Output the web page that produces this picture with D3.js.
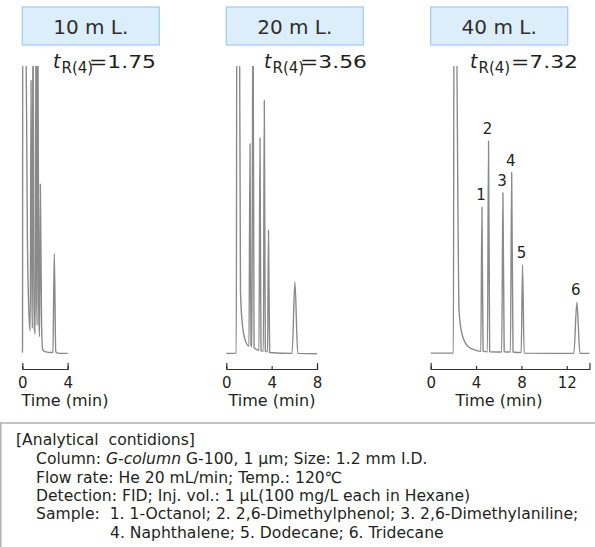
<!DOCTYPE html>
<html>
<head>
<meta charset="utf-8">
<script src="https://cdn.jsdelivr.net/npm/d3@7"></script>
<style>
  body { margin: 0; background: #fff; }
  svg { display: block; font-family: "DejaVu Sans", Verdana, sans-serif; }
</style>
</head>
<body>
<svg id="chart" width="595" height="547"></svg>
<script>
// column lengths / headers
var panelTitles = ["10 m L.", "20 m L.", "40 m L."];
var retentionValues = ["1.75", "3.56", "7.32"];
var axisMax = [4, 8, 14];
var tickValues = [[0, 4], [0, 4, 8], [0, 4, 8, 12]];

// traces, [time (min), signal %] (100 = top of frame)
var trace10 = [[0, 0.5], [0.02, 2], [0.04, 130], [0.28, 130], [0.45, 40], [0.62, 11], [0.7, 8],
  [0.77, 95], [0.85, 20], [0.89, 9], [0.94, 130], [1.02, 25], [1.08, 8], [1.14, 7],
  [1.21, 130], [1.27, 20], [1.31, 10], [1.37, 130], [1.45, 15], [1.52, 6], [1.59, 59],
  [1.7, 10], [1.8, 1.5], [2.0, 0.8], [2.55, 0.5], [2.7, 0.6], [2.82, 35], [2.95, 0.8],
  [3.1, 0.3], [4, 0.2]];
var trace20 = [[0, 0.2], [0.88, 0.3], [0.93, 130], [1.15, 130], [1.25, 22], [1.4, 11],
  [1.65, 5], [2.0, 2.8], [2.09, 73], [2.18, 3], [2.26, 2.5], [2.35, 130], [2.45, 2.2],
  [2.88, 1.3], [2.97, 75], [3.06, 1.2], [3.27, 1], [3.35, 88], [3.44, 1], [3.64, 0.8],
  [3.72, 43], [3.82, 0.5], [5.8, 0.2], [6.05, 25], [6.3, 0.2], [8, 0.1]];
var trace40 = [[0, 0.3], [2.0, 0.3], [2.06, 130], [2.22, 130], [2.5, 15], [2.74, 7.3],
  [3.18, 3.1], [3.76, 1.6], [4.42, 0.9], [4.52, 51], [4.62, 1.0], [5.0, 0.8], [5.1, 74],
  [5.2, 0.8], [6.26, 0.7], [6.37, 56], [6.48, 0.8], [7.03, 0.7], [7.14, 63], [7.26, 0.7],
  [7.98, 0.5], [8.1, 31], [8.24, 0.3], [12.62, 0.2], [12.89, 18], [13.16, 0.2], [14, 0.2]];
var traces = [trace10, trace20, trace40];

// numbered peaks on the 40 m run
var peakNumbers = ["1", "2", "3", "4", "5", "6"];
var peakTimes40 = [4.52, 5.1, 6.37, 7.14, 8.1, 12.89];
var peakHeights40 = [51, 74, 56, 63, 31, 18];

// conditions text
var conditionLines = [
  { x: 16, text: "[Analytical  contidions]" },
  { x: 36, parts: [["Column: ", false], ["G-column", true], [" G-100, 1 μm; Size: 1.2 mm I.D.", false]] },
  { x: 36, text: "Flow rate: He 20 mL/min; Temp.: 120℃" },
  { x: 36, text: "Detection: FID; Inj. vol.: 1 μL(100 mg/L each in Hexane)" },
  { x: 36, text: "Sample:  1. 1-Octanol; 2. 2,6-Dimethylphenol; 3. 2,6-Dimethylaniline;" },
  { x: 110, text: "4. Naphthalene; 5. Dodecane; 6. Tridecane" }
];

// layout
var panelLeft = [22.3, 226.3, 430.7];
var pxPerMin = 11.34;
var tLabelX = [53, 264, 470];
var eqLabelX = [89, 300, 511];
var timeLabelX = [65, 272, 499];
var plotTop = 66, baseY = 354, axisY = 369;
var textColor = "#231f20";

var svg = d3.select("#chart");

var y = d3.scaleLinear().domain([0, 100]).range([baseY, plotTop]);

panelTitles.forEach(function(title, i) {
  var left = panelLeft[i];
  var x = d3.scaleLinear()
    .domain([0, axisMax[i]])
    .range([left, left + axisMax[i] * pxPerMin]);

  var g = svg.append("g");

  // header box
  g.append("rect")
    .attr("x", left)
    .attr("y", 7)
    .attr("width", 137)
    .attr("height", 38)
    .attr("fill", "#ddeefb")
    .attr("stroke", "#a7cdee")
    .attr("stroke-width", 1.3);
  g.append("text")
    .attr("x", left + 68.5)
    .attr("y", 34)
    .attr("text-anchor", "middle")
    .attr("font-size", 20)
    .attr("fill", "#2e2e2e")
    .text(title);

  // t R(4) label
  var tl = g.append("text")
    .attr("x", tLabelX[i])
    .attr("y", 68)
    .attr("fill", textColor);
  tl.append("tspan")
    .attr("font-size", 19)
    .attr("font-style", "italic")
    .text("t");
  tl.append("tspan")
    .attr("font-size", 15)
    .attr("dy", 5)
    .attr("dx", 1)
    .text("R(4)");
  g.append("text")
    .attr("x", eqLabelX[i])
    .attr("y", 68)
    .attr("font-size", 18)
    .attr("fill", textColor)
    .attr("textLength", 67)
    .attr("lengthAdjust", "spacingAndGlyphs")
    .text("=" + retentionValues[i]);

  // trace
  svg.append("clipPath")
    .attr("id", "clip" + i)
    .append("rect")
    .attr("x", left - 2)
    .attr("y", plotTop)
    .attr("width", axisMax[i] * pxPerMin + 4)
    .attr("height", baseY - plotTop + 10);

  var line = d3.line()
    .x(function(d) { return x(d[0]); })
    .y(function(d) { return y(d[1]); })
    .curve(d3.curveMonotoneX);

  g.append("path")
    .datum(traces[i])
    .attr("clip-path", "url(#clip" + i + ")")
    .attr("fill", "none")
    .attr("stroke", "#8a8a8a")
    .attr("stroke-width", 1.4)
    .attr("stroke-linejoin", "round")
    .attr("d", line);

  // axis
  var axis = d3.axisBottom(x)
    .tickValues(tickValues[i])
    .tickSizeInner(-3)
    .tickSizeOuter(-6)
    .tickPadding(8)
    .tickFormat(d3.format("d"));
  var ax = g.append("g")
    .attr("transform", "translate(0," + axisY + ")")
    .call(axis);
  ax.select(".domain").attr("stroke", "#333").attr("stroke-width", 1.2);
  ax.selectAll(".tick line").attr("stroke", "#333").attr("stroke-width", 1.2);
  ax.selectAll(".tick text")
    .style("font-size", "15px")
    .style("font-family", "DejaVu Sans, sans-serif")
    .attr("fill", textColor);

  g.append("text")
    .attr("x", timeLabelX[i])
    .attr("y", 406)
    .attr("text-anchor", "middle")
    .attr("font-size", 16)
    .attr("fill", textColor)
    .text("Time (min)");

  // peak numbers only on the 40 m run
  if (i == 2) {
    g.selectAll(".peakNum")
      .data(peakNumbers)
      .enter().append("text")
      .attr("class", "peakNum")
      .attr("x", function(d, k) { return x(peakTimes40[k]) - 1; })
      .attr("y", function(d, k) { return y(peakHeights40[k]) - 7; })
      .attr("text-anchor", "middle")
      .attr("font-size", 15)
      .attr("fill", textColor)
      .text(function(d) { return d; });
  }
});

// conditions box
svg.append("rect")
  .attr("x", 0.8)
  .attr("y", 423)
  .attr("width", 600)
  .attr("height", 140)
  .attr("fill", "none")
  .attr("stroke", "#b4b4b4")
  .attr("stroke-width", 1.6);

var rowY = [445, 464, 482.5, 500.5, 519, 537.5];
conditionLines.forEach(function(row, i) {
  var t = svg.append("text")
    .attr("x", row.x)
    .attr("y", rowY[i])
    .attr("font-size", 15.6)
    .attr("fill", textColor)
    .style("white-space", "pre");
  if (row.parts) {
    row.parts.forEach(function(p) {
      t.append("tspan")
        .attr("font-style", p[1] ? "italic" : "normal")
        .text(p[0]);
    });
  } else {
    t.text(row.text);
  }
});
</script>
</body>
</html>
